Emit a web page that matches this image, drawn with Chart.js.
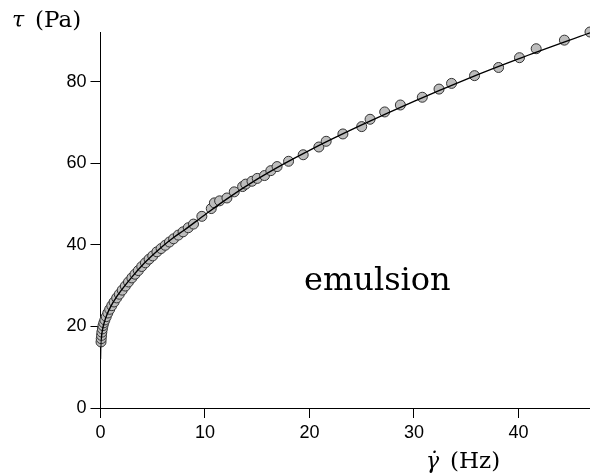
<!DOCTYPE html>
<html>
<head>
<meta charset="utf-8">
<script src="https://cdn.jsdelivr.net/npm/chart.js@4.4.1/dist/chart.umd.min.js"></script>
<style>
html,body{margin:0;padding:0;background:#fff;}
#wrap{position:relative;width:590px;height:476px;}
</style>
</head>
<body>
<div id="wrap"><canvas id="c" width="590" height="476"></canvas></div>
<script>
// Measured shear rate (Hz) and stress (Pa)
const shearRate = [0.05,0.07,0.1,0.13,0.18,0.24,0.32,0.42,0.55,0.7,0.88,1.08,1.3,1.55,1.8,2.08,2.38,2.68,3.0,3.3,3.62,3.95,4.3,4.65,5.0,5.4,5.8,6.2,6.6,7.0,7.45,7.9,8.4,8.9,9.7,10.6,10.9,11.4,12.1,12.8,13.6,13.9,14.5,15.0,15.7,16.3,16.9,18.0,19.4,20.9,21.6,23.2,25.0,25.8,27.2,28.7,30.8,32.4,33.6,35.8,38.1,40.1,41.7,44.4,46.85];
const stress = [16.2,17.0,17.8,18.6,19.4,20.2,20.9,21.6,22.4,23.3,24.2,25.1,26.0,27.0,27.9,28.9,29.9,30.9,31.9,32.8,33.7,34.7,35.6,36.5,37.3,38.3,39.1,39.9,40.7,41.5,42.4,43.2,44.2,45.1,47.0,48.9,50.3,50.8,51.5,53.0,54.3,54.9,55.6,56.3,57.0,58.2,59.2,60.5,62.1,64.0,65.4,67.2,69.0,70.8,72.6,74.3,76.2,78.2,79.6,81.5,83.5,85.9,88.1,90.2,92.2];
// Fitted curve
const fitX = [0,0.02,0.08,0.2,0.4,0.65,1,1.5,2,3,4,5,6,7,8,10,12,15,17.5,20,25,30,35,40,46.85];
const fitY = [12,15,17.2,19.3,21.3,23.1,25,27.1,28.9,32.1,35,37.5,39.8,41.8,43.6,47.4,51.1,56.1,59.8,63.2,69.4,75.2,80.6,85.6,92.0];
const xTicks = [0,10,20,30,40];
const yTicks = [0,20,40,60,80];
const labelText = 'emulsion';
const yTitle = ['τ', '(Pa)'];
const xTitle = ['γ̇', '(Hz)'];

const textPlugin = {
  id: 'texts',
  afterDraw(chart) {
    const ctx = chart.ctx;
    ctx.save();
    ctx.fillStyle = '#000';
    ctx.textBaseline = 'alphabetic';
    ctx.textAlign = 'left';
    ctx.font = 'italic 22px "DejaVu Serif"';
    ctx.fillText(yTitle[0], 12, 27);
    ctx.font = '23px "DejaVu Serif"';
    ctx.fillText(yTitle[1], 35, 27);
    ctx.font = 'italic 22px "DejaVu Serif"';
    ctx.fillText(xTitle[0], 426, 468);
    ctx.font = '23px "DejaVu Serif"';
    ctx.fillText(xTitle[1], 450, 468);
    ctx.font = '32px "DejaVu Serif"';
    ctx.fillText(labelText, 304, 290);
    ctx.restore();
  }
};

const fitData = fitX.map((x, i) => ({x, y: fitY[i]}));
const ptData = shearRate.map((x, i) => ({x, y: stress[i]}));

new Chart(document.getElementById('c'), {
  type: 'scatter',
  data: {
    datasets: [
      {
        data: fitData,
        showLine: true,
        borderColor: '#000',
        borderWidth: 1.4,
        pointRadius: 0,
        cubicInterpolationMode: 'monotone',
        fill: false
      },
      {
        data: ptData,
        pointRadius: 5,
        pointBorderWidth: 1,
        pointBorderColor: '#333',
        pointBackgroundColor: '#bdbdbd',
        showLine: false,
        clip: false
      }
    ]
  },
  options: {
    responsive: false,
    animation: false,
    devicePixelRatio: 1,
    layout: { autoPadding: false, padding: { top: 32, right: 0, left: 0, bottom: 0 } },
    plugins: { legend: { display: false }, tooltip: { enabled: false } },
    scales: {
      x: {
        type: 'linear',
        min: 0,
        max: 46.85,
        afterFit(s) { s.height = 68; s.paddingLeft = 0; s.paddingRight = 0; },
        afterBuildTicks(s) { s.ticks = xTicks.map(v => ({value: v})); },
        border: { display: true, color: '#000', width: 1 },
        grid: { display: true, drawOnChartArea: false, drawTicks: true, tickLength: 10, color: '#000', lineWidth: 1 },
        ticks: { color: '#000', padding: 4, font: { family: '"Liberation Sans", Arial, sans-serif', size: 18 }, maxRotation: 0, includeBounds: false }
      },
      y: {
        type: 'linear',
        min: 0,
        max: 92.2,
        afterFit(s) { s.width = 100.5; s.paddingTop = 0; s.paddingBottom = 0; },
        afterBuildTicks(s) { s.ticks = yTicks.map(v => ({value: v})); },
        border: { display: true, color: '#000', width: 1 },
        grid: { display: true, drawOnChartArea: false, drawTicks: true, tickLength: 10, color: '#000', lineWidth: 1 },
        ticks: { color: '#000', padding: 4, font: { family: '"Liberation Sans", Arial, sans-serif', size: 18 }, includeBounds: false }
      }
    }
  },
  plugins: [textPlugin]
});
</script>
</body>
</html>
